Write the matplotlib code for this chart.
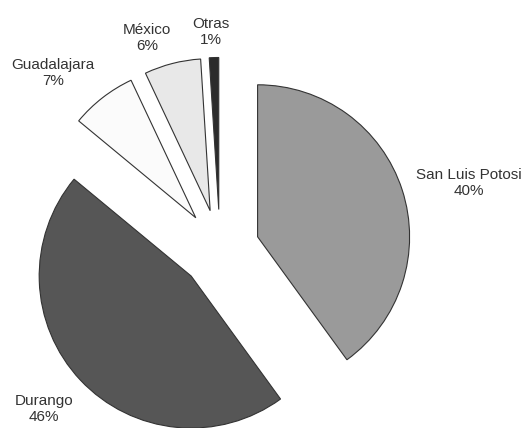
import matplotlib.pyplot as plt

plt.rcParams["font.family"] = ["Liberation Sans", "DejaVu Sans"]

# share of production by origin
origins = ["San Luis Potosi", "Durango", "Guadalajara", "México", "Otras"]
shares = [40, 46, 7, 6, 1]
slice_colors = ["#9a9a9a", "#565656", "#fbfbfb", "#e8e8e8", "#2b2b2b"]

# label anchor points in pixels (y from top)
label_xy = [(469, 183), (44, 409), (53, 73), (147, 38), (211, 32)]

W, H = 525, 428
cx, cy, r = 220, 249, 152  # pie centre and radius in pixels


def to_data(px, py):
    return (px - cx) / r, (cy - py) / r


fig = plt.figure(figsize=(W / 100, H / 100), dpi=100)
ax = fig.add_axes([0, 0, 1, 1])

ax.pie(
    shares,
    colors=slice_colors,
    startangle=90,
    counterclock=False,
    explode=[0.26] * len(shares),
    radius=1,
    wedgeprops=dict(edgecolor="#333333", linewidth=0.8),
)
ax.set_aspect("equal")
ax.set_xlim(-cx / r, (W - cx) / r)
ax.set_ylim((cy - H) / r, cy / r)
ax.axis("off")

for name, val, (x, y) in zip(origins, shares, label_xy):
    tx, ty = to_data(x, y)
    ax.text(tx, ty, f"{name}\n{val}%", ha="center", va="center",
            fontsize=11, color="#333333", linespacing=1.2)

fig.savefig("out.png", dpi=100, facecolor="white")
